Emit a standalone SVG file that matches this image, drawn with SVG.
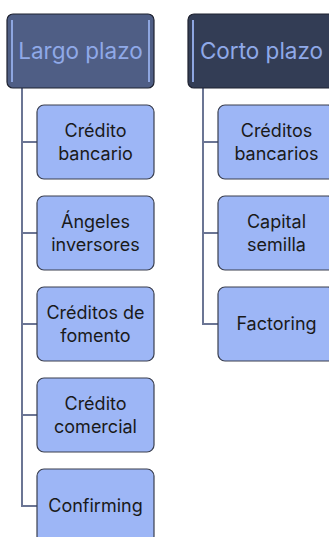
<svg xmlns="http://www.w3.org/2000/svg" width="329" height="537" viewBox="0 0 329 537">
<style>
.hdr{stroke:#1e2230;stroke-width:1.2}
.inner{stroke:#8ea6e0;stroke-width:2;fill:none}
.htxt{font-family:Inter,"Noto Sans",sans-serif;font-size:22.5px;fill:#8fa9e8;text-anchor:middle}
.child rect{fill:#9db6f6;stroke:#3a3f4f;stroke-width:1.2}
.ctxt{font-family:Inter,"Noto Sans",sans-serif;font-size:18px;fill:#1a1a1a;text-anchor:middle}
.conn{stroke:#6b7594;stroke-width:2;fill:none}
</style>
<rect width="329" height="537" fill="#ffffff"/>
<g id="connectors">
<path class="conn" d="M22,88 V506 H37 M22,142 H37 M22,233 H37 M22,324 H37 M22,415 H37"/>
<path class="conn" d="M203,88 V324 H218 M203,142 H218 M203,233 H218"/>
</g>
<g id="largo-plazo">
<rect class="hdr" x="7" y="14" width="147" height="74" rx="6" fill="#4f5e85"/>
<line class="inner" x1="12" y1="20" x2="12" y2="82"/>
<line class="inner" x1="149" y1="20" x2="149" y2="82"/>
<text class="htxt" x="80.5" y="59">Largo plazo</text>
</g>
<g id="corto-plazo">
<rect class="hdr" x="188" y="14" width="147" height="74" rx="6" fill="#333d55"/>
<line class="inner" x1="193" y1="20" x2="193" y2="82"/>
<text class="htxt" x="261.5" y="59">Corto plazo</text>
</g>
<g id="credito-bancario" class="child">
<rect x="37" y="105" width="117" height="74" rx="7"/>
<text class="ctxt" x="95.5" y="137">Crédito</text>
<text class="ctxt" x="95.5" y="159.5">bancario</text>
</g>
<g id="angeles-inversores" class="child">
<rect x="37" y="196" width="117" height="74" rx="7"/>
<text class="ctxt" x="95.5" y="228">Ángeles</text>
<text class="ctxt" x="95.5" y="250.5">inversores</text>
</g>
<g id="creditos-fomento" class="child">
<rect x="37" y="287" width="117" height="74" rx="7"/>
<text class="ctxt" x="95.5" y="319">Créditos de</text>
<text class="ctxt" x="95.5" y="341.5">fomento</text>
</g>
<g id="credito-comercial" class="child">
<rect x="37" y="378" width="117" height="74" rx="7"/>
<text class="ctxt" x="95.5" y="410">Crédito</text>
<text class="ctxt" x="95.5" y="432.5">comercial</text>
</g>
<g id="confirming" class="child">
<rect x="37" y="469" width="117" height="74" rx="7"/>
<text class="ctxt" x="95.5" y="512">Confirming</text>
</g>
<g id="creditos-bancarios" class="child">
<rect x="218" y="105" width="117" height="74" rx="7"/>
<text class="ctxt" x="276.5" y="137">Créditos</text>
<text class="ctxt" x="276.5" y="159.5">bancarios</text>
</g>
<g id="capital-semilla" class="child">
<rect x="218" y="196" width="117" height="74" rx="7"/>
<text class="ctxt" x="276.5" y="228">Capital</text>
<text class="ctxt" x="276.5" y="250.5">semilla</text>
</g>
<g id="factoring" class="child">
<rect x="218" y="287" width="117" height="74" rx="7"/>
<text class="ctxt" x="276.5" y="330">Factoring</text>
</g>
</svg>
